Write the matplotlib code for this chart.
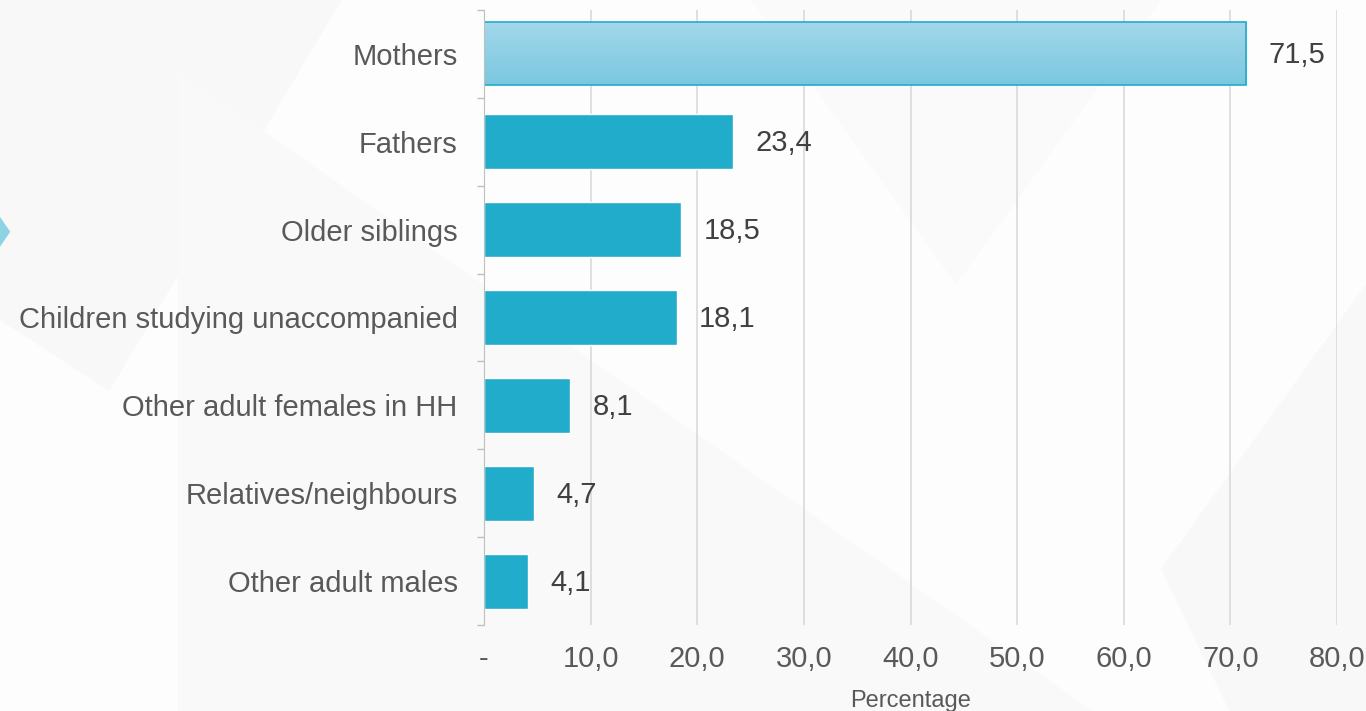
import numpy as np
import matplotlib.pyplot as plt
from matplotlib.patches import Polygon
from matplotlib.colors import LinearSegmentedColormap

plt.rcParams['font.family'] = ['Liberation Sans', 'DejaVu Sans']

categories = ['Mothers', 'Fathers', 'Older siblings', 'Children studying unaccompanied',
              'Other adult females in HH', 'Relatives/neighbours', 'Other adult males']
values = [71.5, 23.4, 18.5, 18.1, 8.1, 4.7, 4.1]
xticks = [0, 10, 20, 30, 40, 50, 60, 70, 80]
xtick_labels = ['-', '10,0', '20,0', '30,0', '40,0', '50,0', '60,0', '70,0', '80,0']

text_col = '#595959'
bar_col = '#21ACCB'

fig = plt.figure(figsize=(13.66, 7.11), dpi=100)
fig.patch.set_facecolor('#FDFDFD')

# faint background shapes
for pts, c in [([(0, 1), (0.25, 1), (0.08, 0.45), (0, 0.55)], '#F8F8F8'),
               ([(0.13, 0.0), (0.13, 0.9), (0.8, 0.0)], '#F9F9F9'),
               ([(0.55, 1), (0.85, 1), (0.7, 0.6)], '#FAFAFA'),
               ([(0.85, 0.2), (1, 0.6), (1, 0.0), (0.9, 0.0)], '#F8F8F8')]:
    fig.patches.append(Polygon(pts, closed=True, transform=fig.transFigure,
                               facecolor=c, edgecolor='none', zorder=-2))
# cyan marker at left edge
fig.patches.append(Polygon([(0, 0.695), (0.0075, 0.674), (0, 0.653)], closed=True,
                           transform=fig.transFigure, facecolor='#8ED3E3',
                           edgecolor='none', zorder=-1))

ax = fig.add_axes([0.3543, 0.1203, 0.6245, 0.8663])
ax.patch.set_alpha(0)

y = np.arange(len(categories))
heights = [0.72] + [0.625] * (len(categories) - 1)
bars = ax.barh(y, values, height=heights, color=bar_col, edgecolor='white',
               linewidth=1.0, zorder=3)

# gradient for the first bar
b0 = bars[0]
b0.set_facecolor('none')
b0.set_edgecolor(bar_col)
b0.set_linewidth(1.2)
x0, y0 = b0.get_x(), b0.get_y()
w, h = b0.get_width(), b0.get_height()
grad = np.linspace(0, 1, 100).reshape(-1, 1)
cmap = LinearSegmentedColormap.from_list('g', ['#A3D8EA', '#7BC7E0'])
im = ax.imshow(grad, cmap=cmap, aspect='auto', extent=(x0, x0 + w, y0 + h, y0),
               zorder=2, origin='upper')
im.set_clip_path(b0)

ax.set_xlim(0, 80)
ax.set_ylim(len(categories) - 0.5, -0.5)

for yi, v in zip(y, values):
    ax.annotate(f'{v:.1f}'.replace('.', ','), (v, yi), xytext=(16, -1),
                textcoords='offset points', va='center', ha='left',
                fontsize=21, color='#404040')

ax.set_xticks(xticks)
ax.set_xticklabels(xtick_labels)
ax.set_yticks(y)
ax.set_yticklabels(categories)
ax.set_yticks(np.arange(-0.5, len(categories), 1), minor=True)
ax.tick_params(axis='y', which='major', length=0, pad=19, labelsize=21, labelcolor=text_col)
ax.tick_params(axis='y', which='minor', length=5, color='#BFBFBF', width=1)
ax.tick_params(axis='x', length=0, pad=14, labelsize=21, labelcolor=text_col)

ax.grid(axis='x', color='#D9D9D9', linewidth=1.2, zorder=0)
for s in ['top', 'right', 'bottom']:
    ax.spines[s].set_visible(False)
ax.spines['left'].set_color('#BFBFBF')
ax.spines['left'].set_zorder(4)

ax.set_xlabel('Percentage', fontsize=17, color=text_col, labelpad=12)

fig.savefig('out.png', dpi=100, facecolor=fig.get_facecolor())
